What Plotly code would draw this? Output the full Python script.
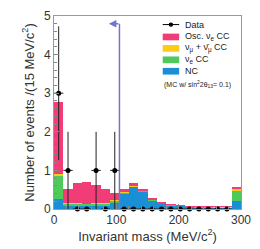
import plotly.graph_objects as go
import numpy as np

# ---- data ----
bin_edges_lo = [i * 15 for i in range(20)]
bin_centers = [lo + 7.5 for lo in bin_edges_lo]
nc   = [0.26,0.08,0.08,0.08,0.09,0.10,0.17,0.40,0.57,0.46,0.22,0.14,0.10,0.08,0.06,0.05,0.05,0.045,0.045,0.22]
nue  = [0.62,0.06,0.06,0.05,0.05,0.05,0.05,0.02,0.02,0.02,0.02,0.01,0.01,0.005,0.005,0.005,0.005,0.005,0.005,0.25]
numu = [0.02,0.01,0.01,0.01,0.01,0.01,0.01,0.01,0.01,0.01,0.01,0.005,0.005,0.005,0.005,0.003,0.003,0.002,0.002,0.07]
osc  = [1.87,0.37,0.52,0.57,0.47,0.37,0.19,0.10,0.07,0.04,0.02,0.015,0.005,0.005,0.005,0.005,0.005,0.003,0.003,0.02]
data_counts = [3,1,0,0,1,0,1,0,0,0,0,0,0,0,0,0,0,0,0]
cut_value = 105
arrow_y = 4.8

COL_OSC = "#f23c78"
COL_NUMU = "#fbcb18"
COL_NUE = "#4ec95a"
COL_NC = "#1a8fd6"

W, H = 260, 249
L, R, T, B = 53.5, 13, 9, 37.3
pw, ph = W - L - R, H - T - B

def px2paper(px, py):
    return (px - L) / pw, (H - B - py) / ph

fig = go.Figure()
for name, vals, col in [("NC", nc, COL_NC), ("nue", nue, COL_NUE),
                        ("numu", numu, COL_NUMU), ("osc", osc, COL_OSC)]:
    fig.add_trace(go.Bar(x=bin_centers, y=vals, width=15, marker=dict(color=col, line=dict(width=0)),
                         showlegend=False, name=name))

dx = bin_centers[:len(data_counts)]
fig.add_trace(go.Scatter(
    x=dx, y=data_counts, mode="markers",
    marker=dict(color="black", size=5, symbol="circle"),
    error_y=dict(type="data", array=list(np.sqrt(data_counts)), color="#222", thickness=1, width=0),
    error_x=dict(type="data", array=[7.5] * len(dx), color="#222", thickness=1, width=0),
    showlegend=False, cliponaxis=False))

# cut line + arrow
fig.add_shape(type="line", x0=cut_value, x1=cut_value, y0=0, y1=arrow_y, xref="x", yref="y",
              line=dict(color="#7474c8", width=1.5))
fig.add_annotation(x=cut_value - 17, y=arrow_y, ax=cut_value + 0.5, ay=arrow_y, xref="x", yref="y",
                   axref="x", ayref="y", showarrow=True, arrowhead=2, arrowsize=1, arrowwidth=1.5,
                   arrowcolor="#7474c8", text="")

# manual legend
font = "Liberation Sans, Arial, sans-serif"
sx0, sx1 = 166, 183
tx = 187
x0p, y0p = px2paper(sx0, 18)
x1p, _ = px2paper(sx1, 18)
fig.add_shape(type="line", xref="paper", yref="paper", x0=x0p, x1=x1p, y0=y0p, y1=y0p,
              line=dict(color="black", width=1))
cxp, _ = px2paper((sx0 + sx1) / 2, 18)
fig.add_shape(type="circle", xref="paper", yref="paper",
              x0=cxp - 2.3 / pw, x1=cxp + 2.3 / pw, y0=y0p - 2.3 / ph, y1=y0p + 2.3 / ph,
              fillcolor="black", line=dict(width=0))
entries = [("Data", None, 18),
           ("Osc. ν<sub>e</sub> CC", COL_OSC, 31),
           ("ν<sub>μ</sub> + ν̄<sub>μ</sub> CC", COL_NUMU, 43),
           ("ν<sub>e</sub> CC", COL_NUE, 55),
           ("NC", COL_NC, 67)]
for text, col, yc in entries:
    if col:
        a, b = px2paper(sx0, yc + 3.5)
        c, d = px2paper(sx1, yc - 3.5)
        fig.add_shape(type="rect", xref="paper", yref="paper", x0=a, x1=c, y0=b, y1=d,
                      fillcolor=col, line=dict(width=0))
    xp, yp = px2paper(tx, yc)
    fig.add_annotation(xref="paper", yref="paper", x=xp, y=yp, text=text, showarrow=False,
                       xanchor="left", yanchor="middle", font=dict(size=9, color="#222", family=font))
xp, yp = px2paper(165, 81)
fig.add_annotation(xref="paper", yref="paper", x=xp, y=yp,
                   text="(MC w/ sin<sup>2</sup>2θ<sub>13</sub>= 0.1)", showarrow=False,
                   xanchor="left", yanchor="middle", font=dict(size=7, color="#222", family=font))

axis_common = dict(showline=True, linecolor="#999", linewidth=1, mirror=True, showgrid=False,
                   zeroline=False, ticks="inside", tickcolor="#888", ticklen=5,
                   tickfont=dict(size=12, color="#333", family=font))
fig.update_layout(
    width=W, height=H, margin=dict(l=L, r=R, t=T, b=B, pad=0),
    paper_bgcolor="white", plot_bgcolor="white", barmode="stack", bargap=0,
    font=dict(family=font),
    xaxis=dict(range=[0, 300], tickvals=[0, 100, 200, 300],
               minor=dict(ticks="inside", ticklen=3, dtick=20, tickcolor="#888"),
               title=dict(text="Invariant mass (MeV/c<sup>2</sup>)", font=dict(size=13, color="#333"), standoff=3),
               **axis_common),
    yaxis=dict(range=[0, 5], tickvals=[0, 1, 2, 3, 4, 5],
               minor=dict(ticks="inside", ticklen=3, dtick=0.2, tickcolor="#888"),
               title=dict(text="Number of events /(15 MeV/c<sup>2</sup>)", font=dict(size=13, color="#333"), standoff=6),
               **axis_common),
)
fig.write_html("out.html", config={"displayModeBar": False},
               post_script="document.body.style.margin='0px';document.body.style.overflow='hidden';")
